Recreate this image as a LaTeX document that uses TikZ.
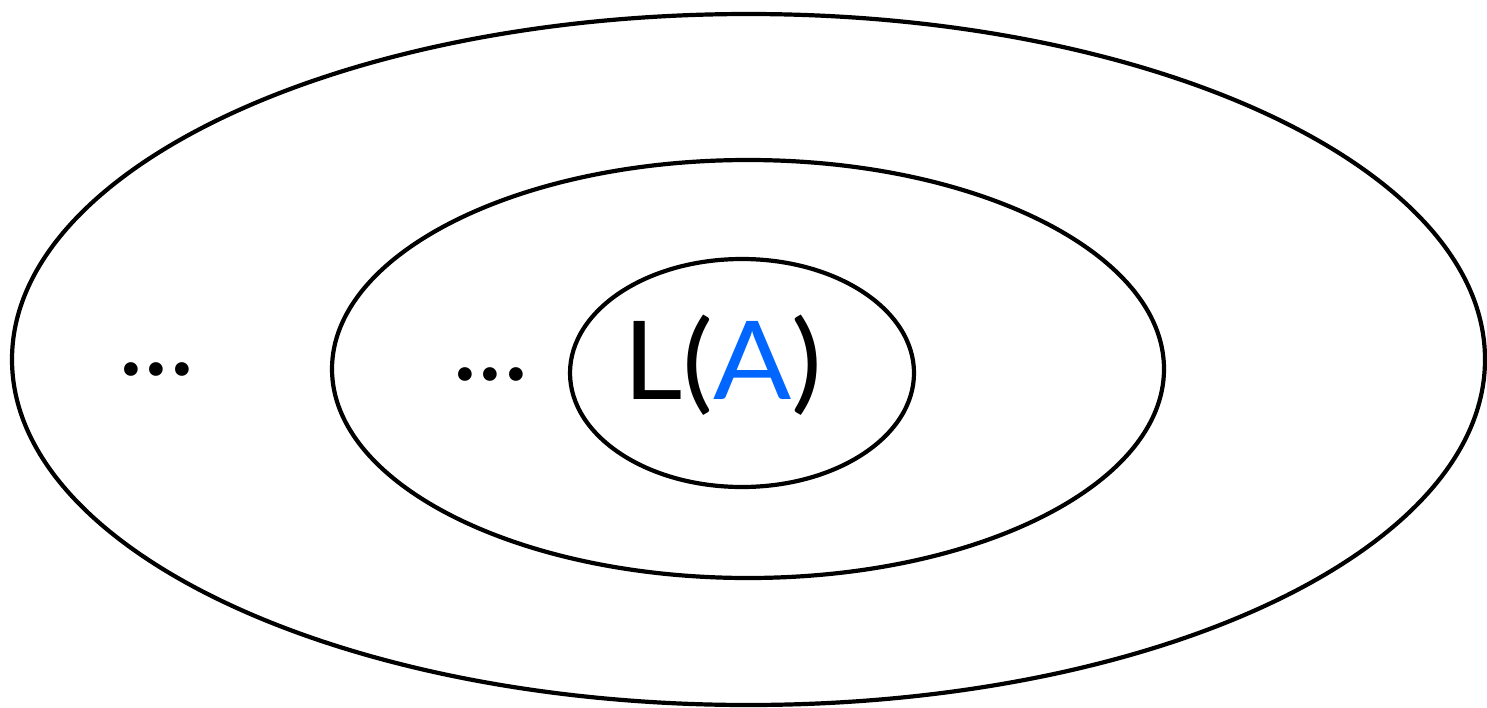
\documentclass[tikz,border=0pt]{standalone}
\usepackage{fontspec}
\setmainfont{Lato}
\usetikzlibrary{shapes.geometric}
\definecolor{lblue}{RGB}{0,102,255}
\begin{document}
\begin{tikzpicture}[x=1pt,y=-1pt,
  ring/.style={draw=black,line width=4.2pt,ellipse,inner sep=0pt,outer sep=0pt},
  txt/.style={font=\fontsize{109}{112}\selectfont,inner sep=0pt,anchor=base west}]
\useasboundingbox (0,0) rectangle (1487,707);
\node[ring,minimum width=1473pt,minimum height=691pt] (outer) at (748.5,359.5) {};
\node[ring,minimum width=832pt,minimum height=418pt] (middle) at (748,369) {};
\node[ring,minimum width=344pt,minimum height=228pt] (inner) at (742,373) {};
\node[txt,xscale=1.06] (la) at (623,399) {L(\textcolor{lblue}{A})};
\node[txt] (d1) at (118,375) {...};
\node[txt] (d2) at (452,380) {...};
\end{tikzpicture}
\end{document}
